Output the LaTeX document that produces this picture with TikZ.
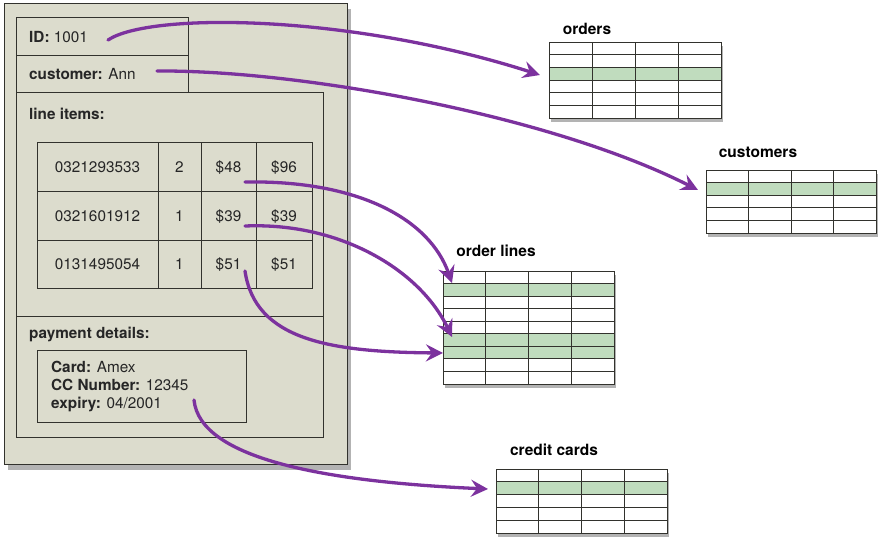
\documentclass[tikz,border=0pt]{standalone}
\usepackage{fontspec}
\setmainfont{TeX Gyre Heros}
\usetikzlibrary{arrows.meta,shadows}
\definecolor{beige}{RGB}{220,220,205}
\definecolor{rowgreen}{RGB}{192,220,190}
\definecolor{arrowpurple}{RGB}{124,50,158}
\definecolor{boxline}{RGB}{50,50,45}
\tikzset{
  txt/.style={font=\fontsize{15.3}{18}\selectfont, inner sep=0pt, text=black!85},
  cell/.style={txt, text height=11pt, text depth=0pt, anchor=center},
  tlabel/.style={font=\bfseries\fontsize{15.5}{18}\selectfont, inner sep=0pt, anchor=base},
  dbt/.style={draw=boxline, line width=0.9pt, fill=white, inner sep=0pt,
    drop shadow={opacity=0.6, shadow xshift=2pt, shadow yshift=-4pt}},
  frame/.style={draw=boxline, line width=0.9pt},
  link/.style={draw=arrowpurple, line width=3.3pt, line cap=round,
    -{Stealth[length=17pt, width=17pt, inset=6pt]}}
}
% name, x0, y0, width, height, rows, green rows
\newcommand\dbtab[7]{%
  \node[dbt, minimum width=#4pt, minimum height=#5pt, anchor=north west] (#1) at (#2,#3) {};
  \pgfmathsetmacro\dbRowH{#5/#6}
  \pgfmathtruncatemacro\dbNR{#6-1}
  \foreach \g in {#7} {\fill[rowgreen] (#2,{#3+\g*\dbRowH}) rectangle ({#2+#4},{#3+(\g+1)*\dbRowH});}
  \foreach \i in {1,...,\dbNR} {\draw[boxline, line width=0.9pt] (#2,{#3+\i*\dbRowH}) -- ++(#4,0);}
  \foreach \c in {1,2,3} {\draw[boxline, line width=0.9pt] ({#2+\c*#4/4},#3) -- ++(0,#5);}
  \draw[boxline, line width=0.9pt] (#1.north west) rectangle (#1.south east);
}
\begin{document}
\begin{tikzpicture}[x=1pt, y=-1pt]
\useasboundingbox (0,0) rectangle (883,538);
% aggregate
\node[draw=boxline, line width=1.1pt, fill=beige, inner sep=0pt, minimum width=343pt, minimum height=461pt, anchor=north west,
  drop shadow={opacity=0.6, shadow xshift=3pt, shadow yshift=-5pt}] (order) at (4,3) {};
\node[frame, inner sep=0pt, minimum width=172pt, minimum height=38pt, anchor=north west] (idbox) at (16,17) {};
\node[frame, inner sep=0pt, minimum width=172pt, minimum height=37pt, anchor=north west] (custbox) at (16,55) {};
\node[frame, inner sep=0pt, minimum width=307pt, minimum height=224pt, anchor=north west] (itemsbox) at (16,92) {};
\node[frame, inner sep=0pt, minimum width=307pt, minimum height=121pt, anchor=north west] (paybox) at (16,316) {};
\node[txt, anchor=base west] (idtxt) at (29,42) {\textbf{ID:} 1001};
\node[txt, anchor=base west] (custtxt) at (29,79) {\textbf{customer:} Ann};
\node[txt, anchor=base west] (itemstxt) at (29,119) {\textbf{line items:}};
\node[txt, anchor=base west] (paytxt) at (29,338) {\textbf{payment details:}};
% line items table
\draw[frame] (37,142) rectangle (312,288);
\foreach \yy in {191,240} {\draw[frame] (37,\yy) -- (312,\yy);}
\foreach \xx in {158,201,256} {\draw[frame] (\xx,142) -- (\xx,288);}
\node[cell] (c11) at (97.5,166.5) {0321293533};
\node[cell] (c12) at (179.5,166.5) {2};
\node[cell] (c13) at (228.5,166.5) {\$48};
\node[cell] (c14) at (284,166.5) {\$96};
\node[cell] (c21) at (97.5,215.5) {0321601912};
\node[cell] (c22) at (179.5,215.5) {1};
\node[cell] (c23) at (228.5,215.5) {\$39};
\node[cell] (c24) at (284,215.5) {\$39};
\node[cell] (c31) at (97.5,264) {0131495054};
\node[cell] (c32) at (179.5,264) {1};
\node[cell] (c33) at (228.5,264) {\$51};
\node[cell] (c34) at (284,264) {\$51};
% payment box
\node[frame, inner sep=0pt, minimum width=209pt, minimum height=72pt, anchor=north west] (cardbox) at (37,350) {};
\node[txt, anchor=base west] (cardtxt) at (51,372) {\textbf{Card:} Amex};
\node[txt, anchor=base west] (cctxt) at (51,390) {\textbf{CC Number:} 12345};
\node[txt, anchor=base west] (exptxt) at (51,408) {\textbf{expiry:} 04/2001};
% tables
\dbtab{orders}{549}{42}{172}{76}{6}{2}
\dbtab{customers}{706}{170}{170}{63}{5}{1}
\dbtab{orderlines}{443}{271}{171}{113}{9}{1,5,6}
\dbtab{creditcards}{496}{469}{171}{64}{5}{1}
\node[tlabel] (orderslbl) at (587,34) {orders};
\node[tlabel] (customerslbl) at (758,157) {customers};
\node[tlabel] (orderlineslbl) at (496,256) {order lines};
\node[tlabel] (creditcardslbl) at (554,455) {credit cards};
% connector end points
\coordinate (s1) at (108,40);
\coordinate (s2) at (157,71);
\coordinate (s3) at (245,182);
\coordinate (s4) at (245,226);
\coordinate (s5) at (245,271);
\coordinate (s6) at (194,400);
\coordinate (e1) at (540,75);
\coordinate (e2) at (698,190);
\coordinate (e3) at (452,283);
\coordinate (e4) at (452,337);
\coordinate (e5) at (443,353);
\coordinate (e6) at (488,489);
\draw[link] (s1) .. controls (150,12) and (350,14) .. (e1);
\draw[link] (s2) .. controls (300,70) and (550,115) .. (e2);
\draw[link] (s3) .. controls (360,180) and (430,220) .. (e3);
\draw[link] (s4) .. controls (340,222) and (420,270) .. (e4);
\draw[link] (s5) .. controls (255,340) and (330,352) .. (e5);
\draw[link] (s6) .. controls (200,460) and (330,482) .. (e6);
\end{tikzpicture}
\end{document}
